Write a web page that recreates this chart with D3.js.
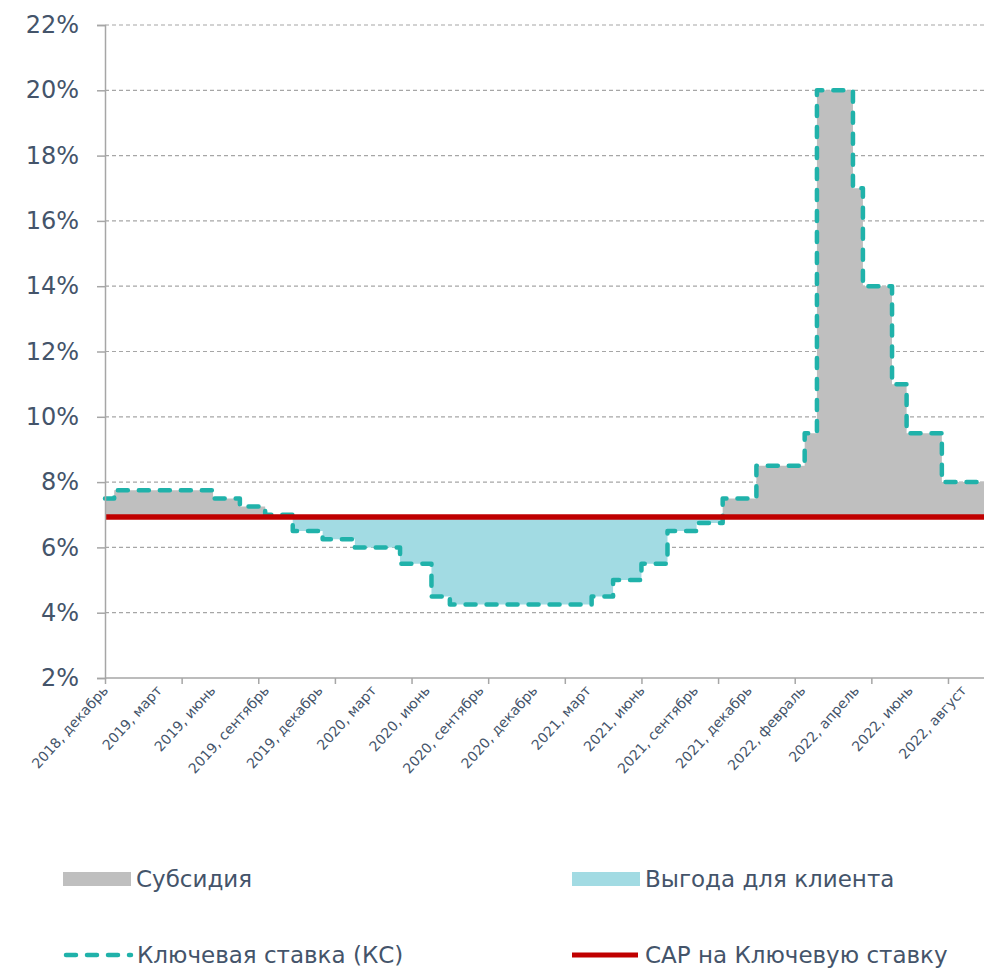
<!DOCTYPE html>
<html>
<head>
<meta charset="utf-8">
<script src="https://cdn.jsdelivr.net/npm/d3@7"></script>
<style>
  body { margin: 0; background: #fff; }
  svg text { font-family: "DejaVu Sans", sans-serif; fill: #44546A; }
</style>
</head>
<body>
<svg width="984" height="968"></svg>
<script>
// category labels (shown every 7th category, tick every 10th)
let xLabels = ["2018, декабрь", "2019, март", "2019, июнь", "2019, сентябрь", "2019, декабрь",
  "2020, март", "2020, июнь", "2020, сентябрь", "2020, декабрь", "2021, март", "2021, июнь",
  "2021, сентябрь", "2021, декабрь", "2022, февраль", "2022, апрель", "2022, июнь", "2022, август"];
let labelEvery = 7;
let tickEvery = 10;
let lastCategory = 114.7;

// key rate: category position where each level starts, and the level (%)
let rateStart = [0, 1.2, 14.1, 17.6, 20.9, 24.5, 28.4, 32.6, 38.5, 42.6, 45, 63.5, 66.3, 70,
  73.4, 77.2, 80.6, 85, 91.3, 92.9, 97.6, 98.9, 102.7, 104.6, 109.2];
let keyRate = [7.5, 7.75, 7.5, 7.25, 7.0, 6.5, 6.25, 6.0, 5.5, 4.5, 4.25, 4.5, 5.0, 5.5, 6.5,
  6.75, 7.5, 8.5, 9.5, 20, 17, 14, 11, 9.5, 8.0];
let capRate = 6.93;

let yTicks = [2, 4, 6, 8, 10, 12, 14, 16, 18, 20, 22];

let legendItems = ["Субсидия", "Выгода для клиента", "Ключевая ставка (КС)", "САР на Ключевую ставку"];

let colors = {
  subsidy: "#BFBFBF",
  benefit: "#A2DBE3",
  key: "#20B2AA",
  cap: "#C00000",
  axis: "#A6A6A6",
  grid: "#A6A6A6"
};

let svg = d3.select("svg");
let plotLeft = 105, plotRight = 984, plotTop = 25, plotBottom = 678;

let x = d3.scaleLinear().domain([0, lastCategory]).range([plotLeft, plotRight]);
let y = d3.scaleLinear().domain([2, 22]).range([plotBottom, plotTop]);

let steps = rateStart.map(function(s, i) { return {x: s, v: keyRate[i]}; });
steps.push({x: lastCategory, v: keyRate[keyRate.length - 1]});

// grid lines
svg.append("g").selectAll("line").data(yTicks.slice(1)).enter().append("line")
  .attr("x1", plotLeft).attr("x2", plotRight)
  .attr("y1", function(d) { return y(d); }).attr("y2", function(d) { return y(d); })
  .attr("stroke", colors.grid).attr("stroke-width", 1.2)
  .attr("stroke-dasharray", "4,3");

// fills
let areaAbove = d3.area().curve(d3.curveStepAfter)
  .x(function(d) { return x(d.x); })
  .y0(y(capRate))
  .y1(function(d) { return y(Math.max(d.v, capRate)); });
let areaBelow = d3.area().curve(d3.curveStepAfter)
  .x(function(d) { return x(d.x); })
  .y0(y(capRate))
  .y1(function(d) { return y(Math.min(d.v, capRate)); });

svg.append("path").datum(steps).attr("d", areaAbove).attr("fill", colors.subsidy);
svg.append("path").datum(steps).attr("d", areaBelow).attr("fill", colors.benefit);

// key rate line
let keyLine = d3.line().curve(d3.curveStepAfter)
  .x(function(d) { return x(d.x); })
  .y(function(d) { return y(d.v); });
svg.append("path").datum(steps).attr("d", keyLine)
  .attr("fill", "none").attr("stroke", colors.key).attr("stroke-width", 4.5)
  .attr("stroke-linecap", "round").attr("stroke-linejoin", "round")
  .attr("stroke-dasharray", "10,11");

// CAP line
svg.append("line")
  .attr("x1", plotLeft).attr("x2", plotRight)
  .attr("y1", y(capRate)).attr("y2", y(capRate))
  .attr("stroke", colors.cap).attr("stroke-width", 5.5);

// y axis
let yAxis = d3.axisLeft(y).tickValues(yTicks).tickSize(8).tickPadding(18)
  .tickFormat(function(d) { return d + "%"; });
let gy = svg.append("g").attr("transform", "translate(" + plotLeft + ",0)").call(yAxis);
gy.select(".domain").attr("stroke", colors.axis).attr("stroke-width", 1.5);
gy.selectAll(".tick line").attr("stroke", colors.axis).attr("stroke-width", 1.5);
gy.selectAll("text").attr("font-size", 24).style("fill", "#44546A")
  .attr("font-family", "'DejaVu Sans', sans-serif");

// x axis
let tickVals = d3.range(0, lastCategory, tickEvery);
let xAxis = d3.axisBottom(x).tickValues(tickVals).tickSize(6).tickFormat("");
let gx = svg.append("g").attr("transform", "translate(0," + plotBottom + ")").call(xAxis);
gx.select(".domain").attr("stroke", colors.axis).attr("stroke-width", 1.5)
  .attr("d", "M" + plotLeft + ",0H" + plotRight);
gx.selectAll(".tick line").attr("stroke", colors.axis).attr("stroke-width", 1.5);

svg.append("g").selectAll("text").data(xLabels).enter().append("text")
  .attr("transform", function(d, i) {
    return "translate(" + (x(i * labelEvery) + 4) + "," + (plotBottom + 13) + ") rotate(-48)";
  })
  .attr("text-anchor", "end")
  .attr("font-size", 14)
  .text(function(d) { return d; });

// legend
let legendPos = [[63, 879], [572, 879], [63, 955], [572, 955]];
let lg = svg.append("g").selectAll("g").data(legendItems).enter().append("g")
  .attr("transform", function(d, i) { return "translate(" + legendPos[i][0] + "," + legendPos[i][1] + ")"; });

lg.each(function(d, i) {
  let g = d3.select(this);
  if (i === 0 || i === 1) {
    g.append("rect").attr("x", 0).attr("y", -7).attr("width", 68).attr("height", 14)
      .attr("fill", i === 0 ? colors.subsidy : colors.benefit);
  } else if (i === 2) {
    g.append("line").attr("x1", 3).attr("x2", 68).attr("y1", 0).attr("y2", 0)
      .attr("stroke", colors.key).attr("stroke-width", 4.5)
      .attr("stroke-linecap", "round").attr("stroke-dasharray", "10,11");
  } else {
    g.append("line").attr("x1", 0).attr("x2", 66).attr("y1", 0).attr("y2", 0)
      .attr("stroke", colors.cap).attr("stroke-width", 5);
  }
  g.append("text").attr("x", i === 2 ? 74 : 73).attr("y", 8).attr("font-size", 23).text(d);
});
</script>
</body>
</html>
